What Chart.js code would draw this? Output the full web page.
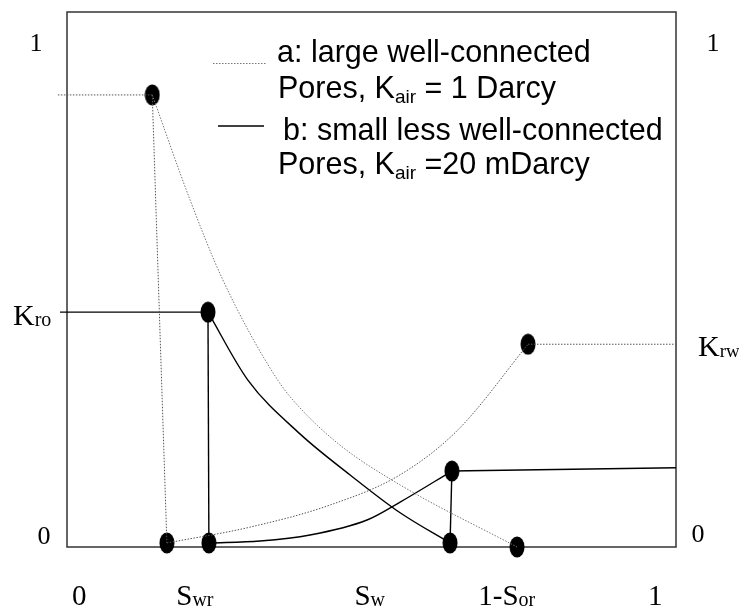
<!DOCTYPE html>
<html><head><meta charset="utf-8">
<script src="https://cdn.jsdelivr.net/npm/chart.js@4"></script>
<style>html,body{margin:0;padding:0;background:#fff}#wrap{width:739px;height:608px;position:relative}</style>
</head><body><div id="wrap"><canvas id="c" width="739" height="608"></canvas></div>
<script>
// ---- series a: large well-connected pores (dotted) ----
const aKroX = [0.140, 0.202, 0.256, 0.346, 0.3826, 0.448, 0.547, 0.739];
const aKroY = [0.845, 0.649, 0.499, 0.312, 0.260, 0.1907, 0.116, 0.000];
const aSwrX = [0.140, 0.164];
const aSwrY = [0.845, 0.0075];
const aKrwX = [0.164, 0.300, 0.432, 0.547, 0.642, 0.757];
const aKrwY = [0.0075, 0.037, 0.0785, 0.135, 0.219, 0.379];
const aLeftX = [-0.015, 0.140];
const aLeftY = [0.845, 0.845];
const aRightX = [0.757, 1.0];
const aRightY = [0.379, 0.379];
const aMarkX = [0.140, 0.164, 0.739, 0.757];
const aMarkY = [0.845, 0.0075, 0.0, 0.379];
// ---- series b: small less well-connected pores (solid) ----
const bKroX = [0.2315, 0.297, 0.383, 0.465, 0.547, 0.629];
const bKroY = [0.439, 0.312, 0.211, 0.1346, 0.064, 0.0075];
const bSwrX = [0.2315, 0.233];
const bSwrY = [0.439, 0.0075];
const bKrwX = [0.233, 0.317, 0.399, 0.4926, 0.547, 0.632];
const bKrwY = [0.0075, 0.0112, 0.0224, 0.0505, 0.084, 0.142];
const bSorX = [0.632, 0.629];
const bSorY = [0.142, 0.0075];
const bLeftX = [-0.0115, 0.2315];
const bLeftY = [0.439, 0.439];
const bRightX = [0.632, 1.0];
const bRightY = [0.142, 0.148];
const bMarkX = [0.2315, 0.233, 0.629, 0.632];
const bMarkY = [0.439, 0.0075, 0.0075, 0.142];
// ---- tick labels ----
const xTickLabels = [['0',''], ['S','wr'], ['S','w'], ['1-S','or'], ['1','']];
const xTickVals = [0.02, 0.210, 0.497, 0.722, 0.966];
const leftLabels = [['1',''], ['K','ro'], ['0','']];
const leftVals = [0.944, 0.432, 0.022];
const rightLabels = [['1',''], ['K','rw'], ['0','']];
const rightVals = [0.944, 0.374, 0.026];
// ---- legend ----
const legendLines = [
  [['a: large well-connected','']],
  [['Pores, K',''], ['air','sub'], [' = 1 Darcy','']],
  [['b: small less well-connected','']],
  [['Pores, K',''], ['air','sub'], [' =20 mDarcy','']]
];

function pts(xs, ys){ return xs.map((x,i)=>({x:x, y:ys[i]})); }

const marker = document.createElement('canvas');
marker.width = 16; marker.height = 22;
(function(){ const m = marker.getContext('2d'); m.fillStyle = '#000'; m.beginPath(); m.ellipse(8, 11, 7.5, 10.5, 0, 0, Math.PI*2); m.fill(); })();

const DOT = { borderColor:'#555', borderWidth:1, borderDash:[1.5,1.5], pointRadius:0, showLine:true, clip:false, fill:false };
const SOLID = { borderColor:'#000', borderWidth:1.4, pointRadius:0, showLine:true, clip:false, fill:false };
const CURVE = { tension:0.4, cubicInterpolationMode:'monotone' };

const datasets = [
  Object.assign({data:pts(aLeftX,aLeftY)}, DOT),
  Object.assign({data:pts(aSwrX,aSwrY)}, DOT),
  Object.assign({data:pts(aKroX,aKroY)}, DOT, CURVE, {borderColor:'#777'}),
  Object.assign({data:pts(aKrwX,aKrwY)}, DOT, CURVE),
  Object.assign({data:pts(aRightX,aRightY)}, DOT),
  Object.assign({data:pts(bLeftX,bLeftY)}, SOLID),
  Object.assign({data:pts(bSwrX,bSwrY)}, SOLID),
  Object.assign({data:pts(bKroX,bKroY)}, SOLID, CURVE),
  Object.assign({data:pts(bKrwX,bKrwY)}, SOLID, CURVE),
  Object.assign({data:pts(bSorX,bSorY)}, SOLID),
  Object.assign({data:pts(bRightX,bRightY)}, SOLID),
  {data:pts(aMarkX,aMarkY), showLine:false, pointStyle:marker, pointRadius:8, clip:false},
  {data:pts(bMarkX,bMarkY), showLine:false, pointStyle:marker, pointRadius:8, clip:false}
];

function drawParts(ctx, parts, x, y, align, big, small, family, subDy){
  let w = 0;
  const segs = parts.map(p=>{
    const isSub = p[1] === 'sub';
    return {t:p[0], f: (isSub ? small : big) + 'px ' + family, dy: isSub ? subDy : 0};
  });
  segs.forEach(s=>{ ctx.font = s.f; s.w = ctx.measureText(s.t).width; w += s.w; });
  let cx = align === 'center' ? x - w/2 : (align === 'right' ? x - w : x);
  ctx.textAlign = 'left'; ctx.textBaseline = 'alphabetic';
  segs.forEach(s=>{ ctx.font = s.f; ctx.fillText(s.t, cx, y + s.dy); cx += s.w; });
}
function serifLabel(ctx, lab, x, y, align, big, small){
  const parts = [[lab[0],'']];
  if (lab[1]) parts.push([lab[1],'sub']);
  drawParts(ctx, parts, x, y, align, big, small, '"Liberation Serif", "Times New Roman", serif', 1);
}

const deco = {
  id:'deco',
  beforeDatasetsDraw(chart){
    const {ctx, chartArea:a} = chart;
    ctx.save(); ctx.strokeStyle = '#333'; ctx.lineWidth = 1.5;
    ctx.strokeRect(a.left, a.top, a.right - a.left, a.bottom - a.top);
    ctx.restore();
  },
  afterDraw(chart){
    const {ctx} = chart; const xs = chart.scales.x, ys = chart.scales.y;
    ctx.save(); ctx.fillStyle = '#000';
    xTickLabels.forEach((lab,i)=>{ serifLabel(ctx, lab, xs.getPixelForValue(xTickVals[i]), 605, 'center', 29, 20); });
    leftLabels.forEach((lab,i)=>{
      const big = lab[1] ? 30 : 26;
      const y = ys.getPixelForValue(leftVals[i]) + 9;
      if (lab[1]) serifLabel(ctx, lab, 13, y, 'left', big, 20);
      else serifLabel(ctx, lab, lab[0]==='1'?36:44, y, 'center', big, 20);
    });
    rightLabels.forEach((lab,i)=>{
      const big = lab[1] ? 30 : 26;
      const y = ys.getPixelForValue(rightVals[i]) + 9;
      if (lab[1]) serifLabel(ctx, lab, 698, y, 'left', big, 19);
      else serifLabel(ctx, lab, lab[0]==='1'?713:698, y, 'center', big, 20);
    });
    // legend
    ctx.save(); ctx.strokeStyle = '#777'; ctx.lineWidth = 1; ctx.setLineDash([1.5,1.5]);
    ctx.beginPath(); ctx.moveTo(213, 63.5); ctx.lineTo(267, 63.5); ctx.stroke(); ctx.restore();
    ctx.save(); ctx.strokeStyle = '#000'; ctx.lineWidth = 1.4;
    ctx.beginPath(); ctx.moveTo(218, 126); ctx.lineTo(264, 126); ctx.stroke(); ctx.restore();
    const fam = '"Liberation Sans", Arial, sans-serif';
    const lx = [277, 278, 283, 278], ly = [62, 98, 140, 174];
    legendLines.forEach((ln,i)=>{ drawParts(ctx, ln, lx[i], ly[i], 'left', 30.5, 19, fam, 5); });
    ctx.restore();
  }
};

new Chart(document.getElementById('c'), {
  type:'scatter',
  data:{datasets:datasets},
  options:{
    responsive:false, animation:false, events:[],
    layout:{padding:{left:67, top:12, right:63, bottom:61}},
    plugins:{legend:{display:false}, tooltip:{enabled:false}},
    scales:{
      x:{type:'linear', min:0, max:1, display:false},
      y:{type:'linear', min:0, max:1, display:false}
    }
  },
  plugins:[deco]
});
</script>
</body></html>
